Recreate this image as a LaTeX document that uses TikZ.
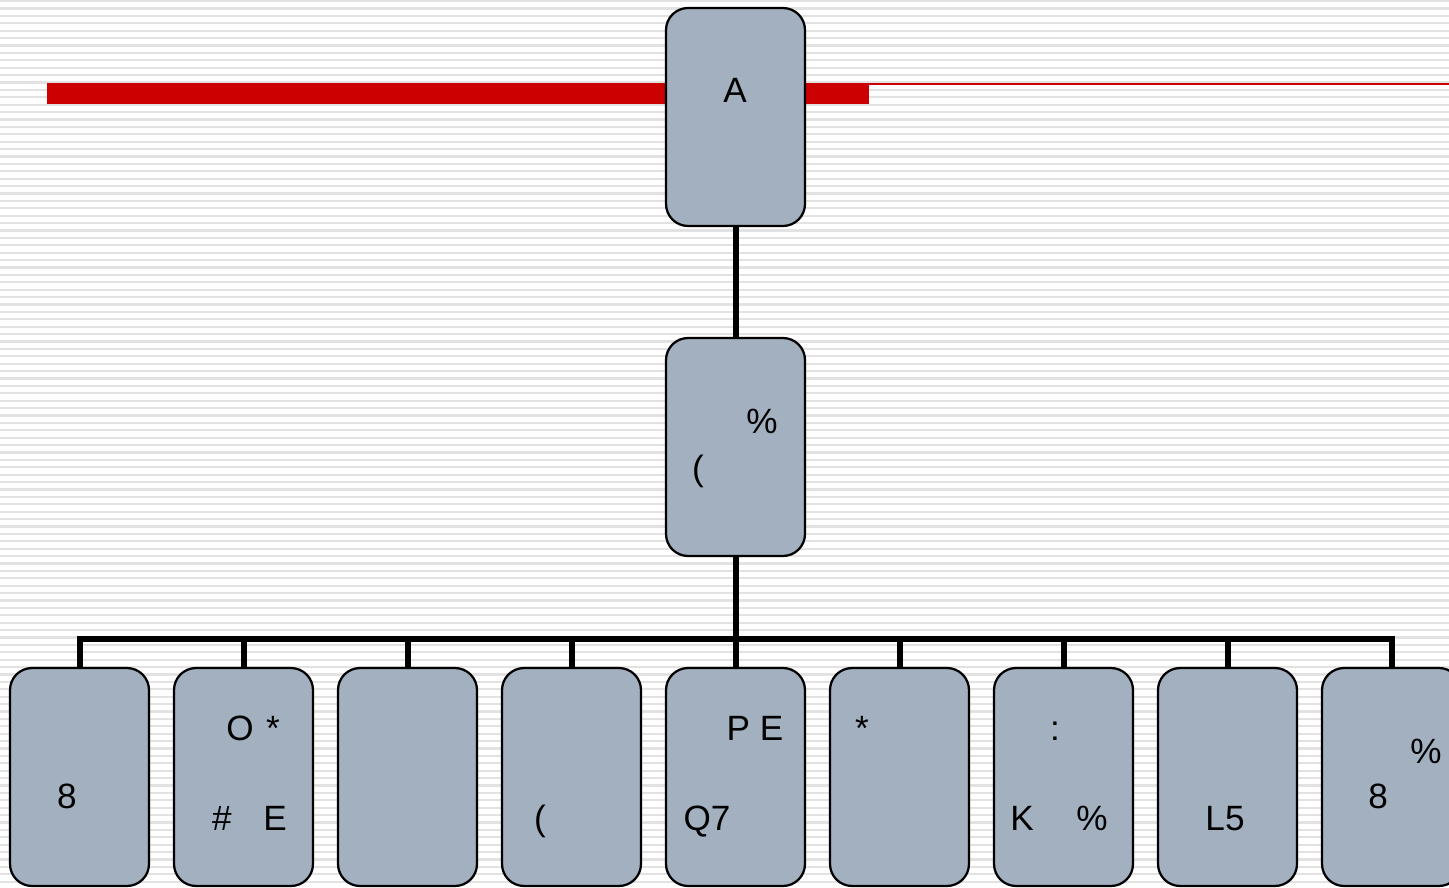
\documentclass[tikz,border=0pt]{standalone}
\usepackage{fontspec}
\setmainfont{Liberation Sans}
\usepackage{tikz}
\usetikzlibrary{positioning}
\definecolor{boxfill}{RGB}{162,176,191}
\definecolor{stripegray}{RGB}{226,226,226}
\definecolor{barred}{RGB}{204,0,0}
\tikzset{
  orgbox/.style={draw=black,line width=0.045cm,fill=boxfill,rounded corners=0.44cm,
    minimum width=2.78cm,minimum height=4.36cm,inner sep=0pt},
  lbl/.style={anchor=base,inner sep=0pt,font=\fontsize{20}{24}\selectfont},
  link/.style={line width=0.12cm,line join=miter,line cap=butt}
}
\begin{document}
\begin{tikzpicture}[line cap=round,line join=round,x=0.02cm,y=-0.02cm]
\useasboundingbox (0,0) rectangle (1449,888);
% striped background
\fill[white] (0,0) rectangle (1449,888);
\foreach \y in {0,7.4,...,888}
  \fill[stripegray] (0,\y) rectangle (1449,{\y+2.2});
% red title bar
\draw[barred,line width=0.04cm,line cap=butt] (47,84.5)-- (1449,84.5);
\fill[barred] (47,84) rectangle (869,104);
% boxes
\node[orgbox] (top) at (735.5,117) {};
\node[orgbox] (mid) at (735.5,447) {};
\foreach \i in {1,...,9}
  \node[orgbox] (c\i) at ({79+164*(\i-1)+0.5},777) {};
% connectors
\coordinate (bus) at (735.5,639);
\draw[link] (top.south)-- (mid.north);
\draw[link] (mid.south)-- (bus);
\draw[link] (c1.north) |- (bus) -| (c9.north);
\foreach \i in {2,...,8}
  \draw[link] (c\i.north)-- (c\i.north |- bus);
% labels
\node[lbl] (ttop) at (735,103) {A};
\node[lbl] (tmida) at (762,433) {\%};
\node[lbl] (tmidb) at (698,480) {(};
\node[lbl] (t1) at (67,808) {8};
\node[lbl] (t2a) at (240,740) {O};
\node[lbl] (t2b) at (273,740) {*};
\node[lbl] (t2c) at (222,830) {\#};
\node[lbl] (t2d) at (275,830) {E};
\node[lbl] (t4) at (540,830) {(};
\node[lbl] (t5a) at (755,740) {P E};
\node[lbl] (t5b) at (707,830) {Q7};
\node[lbl] (t6) at (862,740) {*};
\node[lbl] (t7a) at (1055,740) {:};
\node[lbl] (t7b) at (1022,830) {K};
\node[lbl] (t7c) at (1092,830) {\%};
\node[lbl] (t8) at (1225,830) {L5};
\node[lbl] (t9a) at (1426,763) {\%};
\node[lbl] (t9b) at (1378,808) {8};
\end{tikzpicture}
\end{document}
